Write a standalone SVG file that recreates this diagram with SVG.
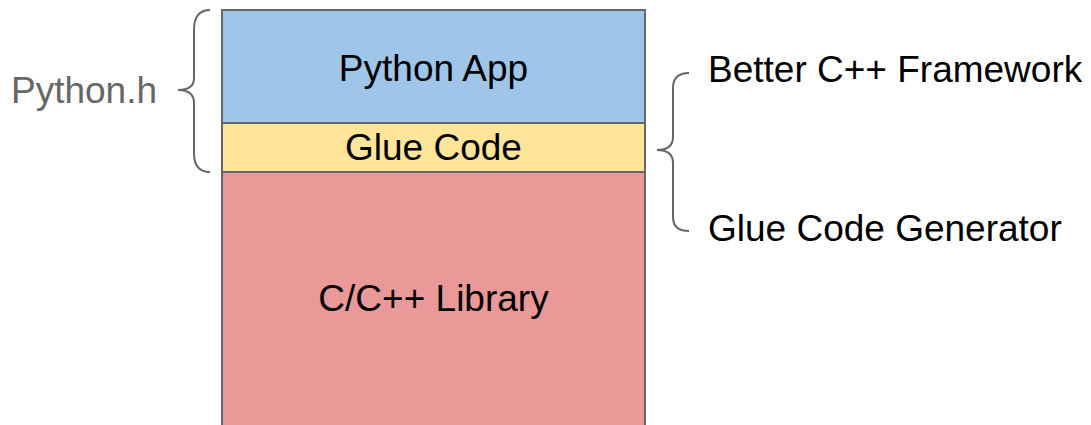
<svg xmlns="http://www.w3.org/2000/svg" width="1091" height="425" viewBox="0 0 1091 425">
<style>
.layer{stroke:#666;stroke-width:2}
.lbl{font-family:"Liberation Sans",Arial,sans-serif;font-size:37px;fill:#000}
.side{font-family:"Liberation Sans",Arial,sans-serif;font-size:37px}
.brace{fill:none;stroke:#666;stroke-width:2}
</style>
<rect width="1091" height="425" fill="#fff"/>
<g id="c-lib">
<rect class="layer" x="222" y="172" width="423" height="260" fill="#ea9999"/>
<text class="lbl" x="433.5" y="311" text-anchor="middle">C/C++ Library</text>
</g>
<g id="python-app">
<rect class="layer" x="222" y="10" width="423" height="113" fill="#9fc5e8"/>
<text class="lbl" x="433.5" y="81" text-anchor="middle">Python App</text>
</g>
<g id="glue-code">
<rect class="layer" x="222" y="123" width="423" height="49" fill="#ffe599"/>
<text class="lbl" x="433.5" y="160" text-anchor="middle">Glue Code</text>
</g>
<g id="connectors">
<path class="brace" d="M210,10 Q194,10 194,30 L194,78 Q194,90 178,90 Q194,90 194,103 L194,153 Q194,172 210,172"/>
<path class="brace" d="M689,73 Q673,73 673,88 L673,137 Q673,150 657,150 Q673,150 673,163 L673,217 Q673,231 689,231"/>
</g>
<g id="python-h">
<text class="side" x="11" y="103" fill="#666">Python.h</text>
</g>
<g id="better-cpp">
<text class="side" x="708" y="82" fill="#000">Better C++ Framework</text>
</g>
<g id="glue-gen">
<text class="side" x="708" y="241" fill="#000">Glue Code Generator</text>
</g>
</svg>
